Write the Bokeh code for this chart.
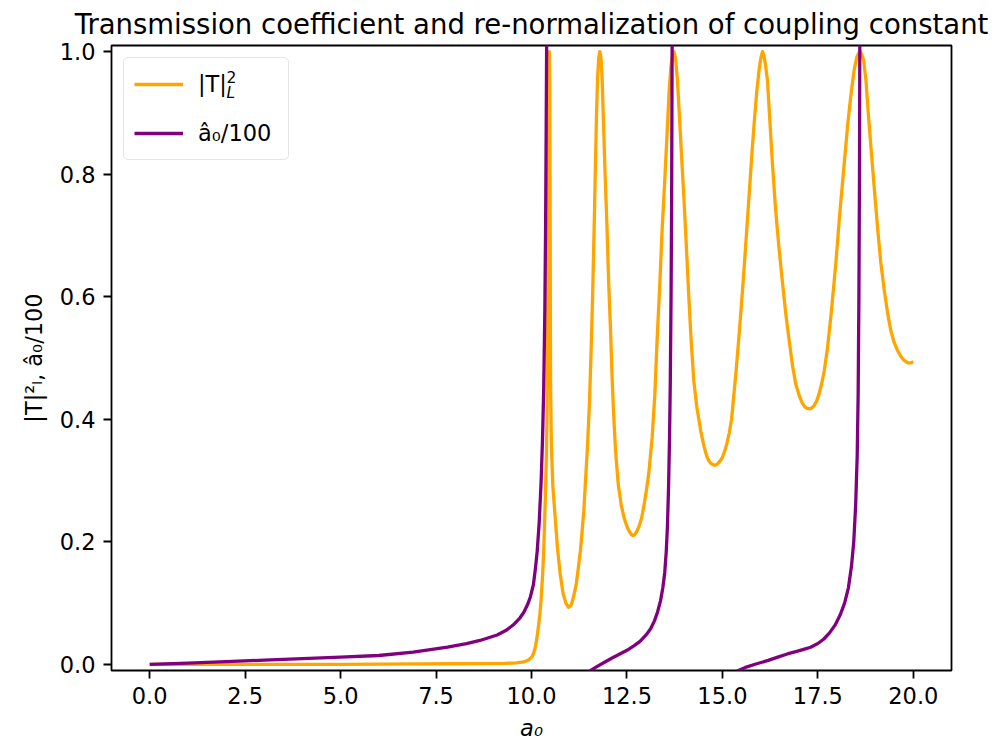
from bokeh.embed import file_html
from bokeh.models import (FixedTicker, Label, Legend, LegendItem,
                          PrintfTickFormatter, Range1d)
from bokeh.plotting import figure
from bokeh.resources import INLINE

# ---------------------------------------------------------------------------
# Transmission coefficient |T_L|^2 versus the bare coupling a0
# ---------------------------------------------------------------------------
a0_T = [
    0.0, 1.0, 2.0, 3.0, 4.0, 5.0, 6.0, 7.0, 8.0, 8.8, 9.3, 9.6, 9.8, 9.92,
    10.01, 10.06, 10.10, 10.14, 10.18, 10.22, 10.25, 10.29, 10.32, 10.36,
    10.39, 10.41, 10.425, 10.437, 10.447, 10.456, 10.466, 10.476, 10.484,
    10.49, 10.495, 10.50, 10.52, 10.56, 10.62, 10.68, 10.75, 10.83, 10.90,
    10.97, 11.04, 11.10, 11.17, 11.23, 11.28, 11.32, 11.37, 11.41, 11.47,
    11.52, 11.56, 11.60, 11.64, 11.67, 11.70, 11.73, 11.76, 11.79, 11.82,
    11.85, 11.89, 11.93, 11.98, 12.02, 12.07, 12.11, 12.15, 12.20, 12.27,
    12.35, 12.43, 12.50, 12.56, 12.62, 12.66, 12.70, 12.75, 12.81, 12.88,
    12.94, 13.00, 13.07, 13.16, 13.23, 13.29, 13.36, 13.42, 13.49, 13.55,
    13.60, 13.65, 13.70, 13.73, 13.77, 13.82, 13.87, 13.93, 13.99, 14.05,
    14.12, 14.18, 14.25, 14.33, 14.43, 14.52, 14.60, 14.65, 14.70, 14.75,
    14.80, 14.85, 14.90, 14.95, 15.00, 15.06, 15.12, 15.18, 15.24, 15.30,
    15.36, 15.42, 15.48, 15.54, 15.60, 15.66, 15.72, 15.78, 15.84, 15.90,
    15.96, 16.01, 16.05, 16.09, 16.13, 16.18, 16.24, 16.31, 16.39, 16.48,
    16.57, 16.66, 16.75, 16.83, 16.92, 17.01, 17.08, 17.15, 17.21, 17.27,
    17.33, 17.40, 17.47, 17.53, 17.60, 17.67, 17.75, 17.86, 17.97, 18.08,
    18.19, 18.28, 18.36, 18.45, 18.52, 18.57, 18.61, 18.65, 18.70, 18.76,
    18.82, 18.89, 18.98, 19.07, 19.15, 19.24, 19.33, 19.41, 19.50, 19.59,
    19.68, 19.76, 19.86, 19.93, 20.0,
]
T2 = [
    0.0, 0.0, 0.0, 0.0, 0.0, 0.0, 0.0005, 0.0007, 0.001, 0.0012, 0.0016,
    0.0025, 0.004, 0.007, 0.012, 0.019, 0.028, 0.042, 0.061, 0.082, 0.104,
    0.145, 0.186, 0.267, 0.34, 0.42, 0.55, 0.70, 0.84, 0.95, 1.0, 0.95,
    0.84, 0.70, 0.55, 0.45, 0.36, 0.29, 0.24, 0.19, 0.148, 0.115, 0.100,
    0.093, 0.097, 0.110, 0.130, 0.159, 0.185, 0.213, 0.250, 0.295, 0.36,
    0.43, 0.51, 0.60, 0.71, 0.80, 0.89, 0.955, 0.99, 1.0, 0.99, 0.955,
    0.875, 0.795, 0.708, 0.625, 0.545, 0.47, 0.41, 0.35, 0.295, 0.26,
    0.238, 0.225, 0.217, 0.2115, 0.21, 0.2115, 0.216, 0.224, 0.238, 0.257,
    0.28, 0.311, 0.37, 0.44, 0.53, 0.62, 0.708, 0.79, 0.865, 0.93, 0.975,
    0.997, 1.0, 0.99, 0.955, 0.90, 0.83, 0.763, 0.69, 0.60, 0.53, 0.463,
    0.42, 0.382, 0.355, 0.338, 0.332, 0.328, 0.326, 0.325, 0.326, 0.329,
    0.333, 0.338, 0.348, 0.361, 0.378, 0.40, 0.44, 0.48, 0.525, 0.572,
    0.622, 0.675, 0.73, 0.785, 0.84, 0.89, 0.935, 0.97, 0.99, 1.0, 0.993,
    0.978, 0.953, 0.89, 0.817, 0.745, 0.681, 0.625, 0.572, 0.528, 0.49,
    0.458, 0.439, 0.428, 0.421, 0.418, 0.417, 0.418, 0.422, 0.43, 0.441,
    0.458, 0.48, 0.515, 0.58, 0.654, 0.74, 0.817, 0.88, 0.926, 0.97,
    0.991, 0.998, 1.0, 0.996, 0.985, 0.953, 0.90, 0.844, 0.775, 0.708,
    0.655, 0.61, 0.572, 0.545, 0.525, 0.512, 0.502, 0.496, 0.492, 0.492,
    0.494,
]

# ---------------------------------------------------------------------------
# Re-normalized coupling a0_hat / 100: three branches between its poles
# ---------------------------------------------------------------------------
a0_hat_1 = [
    0.0, 1.0, 2.0, 3.0, 4.0, 5.0, 6.0, 6.9, 7.8, 8.3, 8.65, 9.1, 9.35,
    9.55, 9.7, 9.8, 9.9, 9.97, 10.05, 10.1, 10.15, 10.2, 10.25, 10.29,
    10.32, 10.35, 10.37, 10.385, 10.40,
]
hat_1 = [
    0.0, 0.0022, 0.0045, 0.0069, 0.0093, 0.0118, 0.0145, 0.020, 0.028,
    0.034, 0.039, 0.048, 0.056, 0.066, 0.076, 0.085, 0.098, 0.11, 0.13,
    0.155, 0.185, 0.23, 0.295, 0.37, 0.45, 0.58, 0.72, 0.88, 1.05,
]
a0_hat_2 = [
    11.52, 11.7, 11.9, 12.1, 12.3, 12.5, 12.7, 12.85, 13.0, 13.12, 13.22,
    13.3, 13.38, 13.44, 13.49, 13.53, 13.56, 13.59, 13.615, 13.635, 13.655,
    13.67, 13.685,
]
hat_2 = [
    -0.011, -0.004, 0.003, 0.010, 0.0165, 0.023, 0.031, 0.038, 0.048,
    0.058, 0.071, 0.085, 0.104, 0.125, 0.15, 0.185, 0.225, 0.29, 0.37,
    0.46, 0.6, 0.75, 1.05,
]
a0_hat_3 = [
    15.39, 15.6, 15.9, 16.2, 16.45, 16.7, 16.97, 17.15, 17.31, 17.5, 17.65,
    17.8, 17.95, 18.08, 18.2, 18.3, 18.38, 18.44, 18.49, 18.53, 18.555,
    18.575, 18.59, 18.6,
]
hat_3 = [
    -0.011, -0.005, 0.001, 0.0065, 0.0118, 0.017, 0.0216, 0.025, 0.028,
    0.034, 0.041, 0.051, 0.064, 0.08, 0.1, 0.125, 0.16, 0.2, 0.26, 0.34,
    0.44, 0.6, 0.8, 1.05,
]

x_ticks = [0.0, 2.5, 5.0, 7.5, 10.0, 12.5, 15.0, 17.5, 20.0]
y_ticks = [0.0, 0.2, 0.4, 0.6, 0.8, 1.0]

TITLE = "Transmission coefficient and re-normalization of coupling constant"
ORANGE = "#FFA500"
PURPLE = "#800080"
FONT = "DejaVu Sans"

# NaN gaps keep the branches apart at the poles
nan = float("nan")
a0_hat = a0_hat_1 + [nan] + a0_hat_2 + [nan] + a0_hat_3
hat = hat_1 + [nan] + hat_2 + [nan] + hat_3

p = figure(
    frame_width=840, frame_height=625,
    min_border_left=111, min_border_right=57,
    min_border_top=45, min_border_bottom=76,
    x_range=Range1d(-1.0, 21.0), y_range=Range1d(-0.01, 1.01),
    output_backend="svg", toolbar_location=None, title=TITLE,
)
p.background_fill_color = "white"
p.border_fill_color = "white"
p.outline_line_color = "black"
p.outline_line_width = 1.8
p.xgrid.visible = False
p.ygrid.visible = False

p.title.align = "center"
p.title.vertical_align = "top"
p.title.text_font = FONT
p.title.text_font_size = "27.5px"
p.title.text_font_style = "normal"
p.title.text_color = "black"
p.title.standoff = 8

for ax in (p.xaxis[0], p.yaxis[0]):
    ax.axis_line_color = None
    ax.major_tick_out = 8
    ax.major_tick_in = 0
    ax.major_tick_line_width = 1.8
    ax.major_tick_line_color = "black"
    ax.minor_tick_line_color = None
    ax.major_label_text_font = FONT
    ax.major_label_text_font_size = "22.5px"
    ax.major_label_text_color = "black"
    ax.major_label_standoff = 8
    ax.axis_label_text_font = FONT
    ax.axis_label_text_font_size = "22.5px"
    ax.axis_label_text_color = "black"
    ax.axis_label_text_font_style = "normal"
    ax.axis_label_standoff = 10

p.xaxis.ticker = FixedTicker(ticks=x_ticks)
p.yaxis.ticker = FixedTicker(ticks=y_ticks)
p.xaxis.formatter = PrintfTickFormatter(format="%.1f")
p.yaxis.formatter = PrintfTickFormatter(format="%.1f")
p.xaxis.axis_label = "a₀"
p.xaxis.axis_label_text_font_style = "italic"
p.xaxis.axis_label_standoff = 8
p.yaxis.axis_label = "|T|²ₗ, â₀/100"

r_T = p.line(a0_T, T2, line_color=ORANGE, line_width=3.3, line_join="round")
r_hat = p.line(a0_hat, hat, line_color=PURPLE, line_width=3.3, line_join="round")

legend = Legend(
    items=[
        LegendItem(label="|T|", renderers=[r_T]),
        LegendItem(label="â₀/100", renderers=[r_hat]),
    ],
    location="top_left",
    margin=12, padding=10, spacing=17,
    glyph_width=49, glyph_height=32,
    label_height=32, label_width=80, label_standoff=15,
    label_text_font=FONT, label_text_font_size="22.5px",
    label_text_color="black", label_text_baseline="middle",
    border_line_color="#cccccc", border_line_width=1.5,
    background_fill_color="white", background_fill_alpha=0.0,
)
if "border_radius" in Legend.properties():
    legend.border_radius = 5
p.add_layout(legend)

# stacked exponent and subscript of |T|^2_L in the legend entry
p.add_layout(Label(x=115, y=594, x_units="screen", y_units="screen",
                   text="2", text_font=FONT, text_font_size="15.5px",
                   text_color="black", text_baseline="middle",
                   level="overlay"))
p.add_layout(Label(x=115, y=578, x_units="screen", y_units="screen",
                   text="L", text_font=FONT, text_font_size="15.5px",
                   text_font_style="italic",
                   text_color="black", text_baseline="middle",
                   level="overlay"))

open("out.html", "w").write(file_html(p, INLINE))
